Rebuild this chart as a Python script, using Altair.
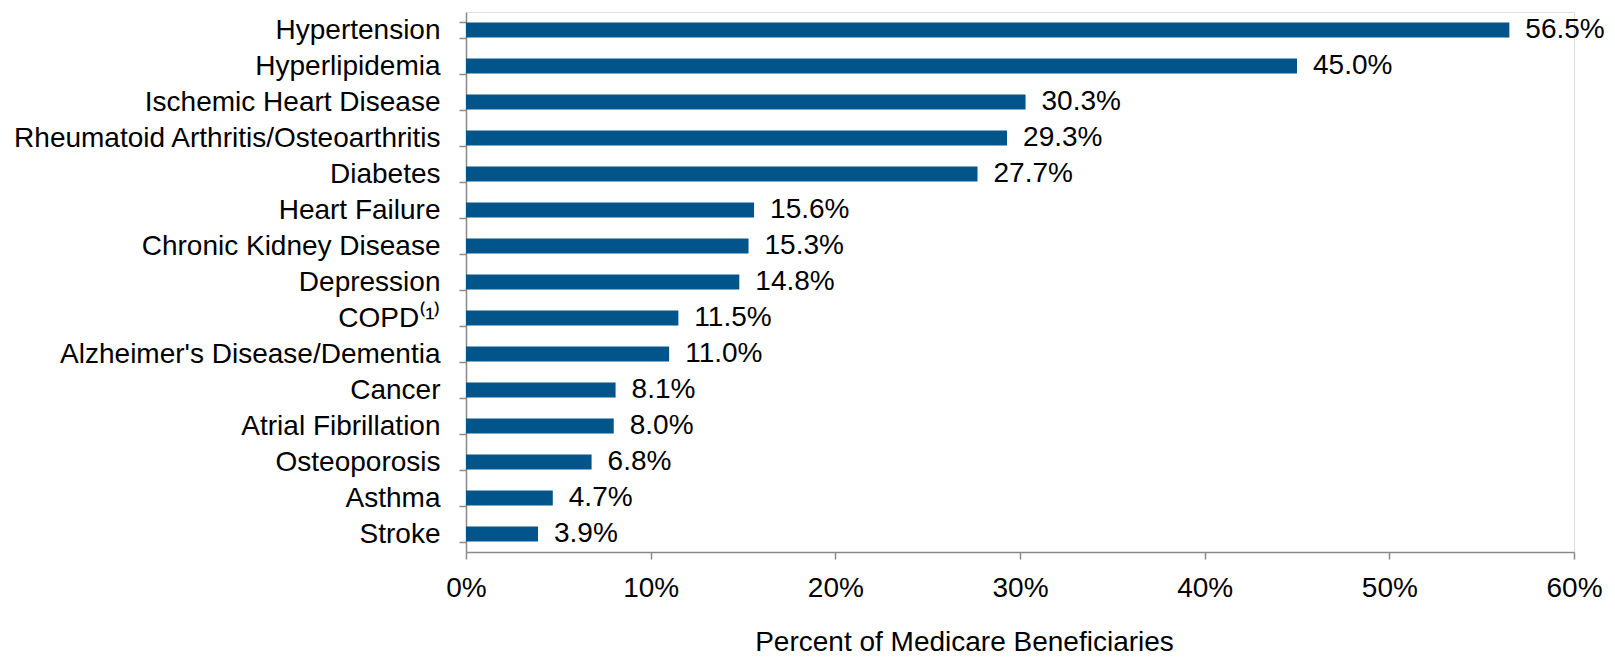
import altair as alt
import pandas as pd

conditions = [
    "Hypertension", "Hyperlipidemia", "Ischemic Heart Disease",
    "Rheumatoid Arthritis/Osteoarthritis", "Diabetes", "Heart Failure",
    "Chronic Kidney Disease", "Depression", "COPD⁽¹⁾",
    "Alzheimer's Disease/Dementia", "Cancer", "Atrial Fibrillation",
    "Osteoporosis", "Asthma", "Stroke",
]
percents = [56.5, 45.0, 30.3, 29.3, 27.7, 15.6, 15.3, 14.8, 11.5, 11.0, 8.1, 8.0, 6.8, 4.7, 3.9]
x_ticks = [0, 10, 20, 30, 40, 50, 60]

df = pd.DataFrame({"condition": conditions, "pct": percents})
df["label"] = [f"{v:.1f}%" for v in percents]

FONT = "Liberation Sans"
FS = 28
GRAY = "#8a8a8a"

y_enc = alt.Y(
    "condition:N",
    sort=conditions,
    scale=alt.Scale(paddingInner=0.58, paddingOuter=0.29),
    axis=alt.Axis(
        title=None,
        domainColor=GRAY, domainWidth=1.5,
        tickColor=GRAY, tickWidth=1.5, tickSize=7, tickBand="extent",
        labelFont=FONT, labelFontSize=FS, labelColor="#000000",
        labelPadding=19, labelLimit=600,
    ),
)
x_enc = alt.X(
    "pct:Q",
    scale=alt.Scale(domain=[0, 60], nice=False),
    axis=alt.Axis(
        values=x_ticks,
        labelExpr="datum.value + '%'",
        labelFlush=False,
        grid=False,
        domainColor=GRAY, domainWidth=1.5,
        tickColor=GRAY, tickWidth=1.5, tickSize=7,
        labelFont=FONT, labelFontSize=FS, labelColor="#000000",
        labelPadding=15,
        title="Percent of Medicare Beneficiaries",
        titleFont=FONT, titleFontSize=FS, titleFontWeight="normal", titleColor="#000000",
        titleX=498, titleY=98, titleAlign="center", titleBaseline="alphabetic",
    ),
)

bars = alt.Chart(df).mark_bar(color="#02558b").encode(x=x_enc, y=y_enc)
labels = alt.Chart(df).mark_text(
    align="left", baseline="middle", dx=16, font=FONT, fontSize=FS, color="#000000"
).encode(
    x=alt.X("pct:Q"),
    y=alt.Y("condition:N", sort=conditions),
    text="label:N",
)

chart = (
    alt.layer(bars, labels)
    .properties(
        width=1108, height=540,
        autosize=alt.AutoSizeParams(type="none"),
        padding={"left": 458, "top": 4, "right": 32, "bottom": 104},
    )
    .configure_view(stroke=None)
    .configure(background="white")
)

chart.save("out.html", embed_options={"renderer": "svg", "actions": False})
